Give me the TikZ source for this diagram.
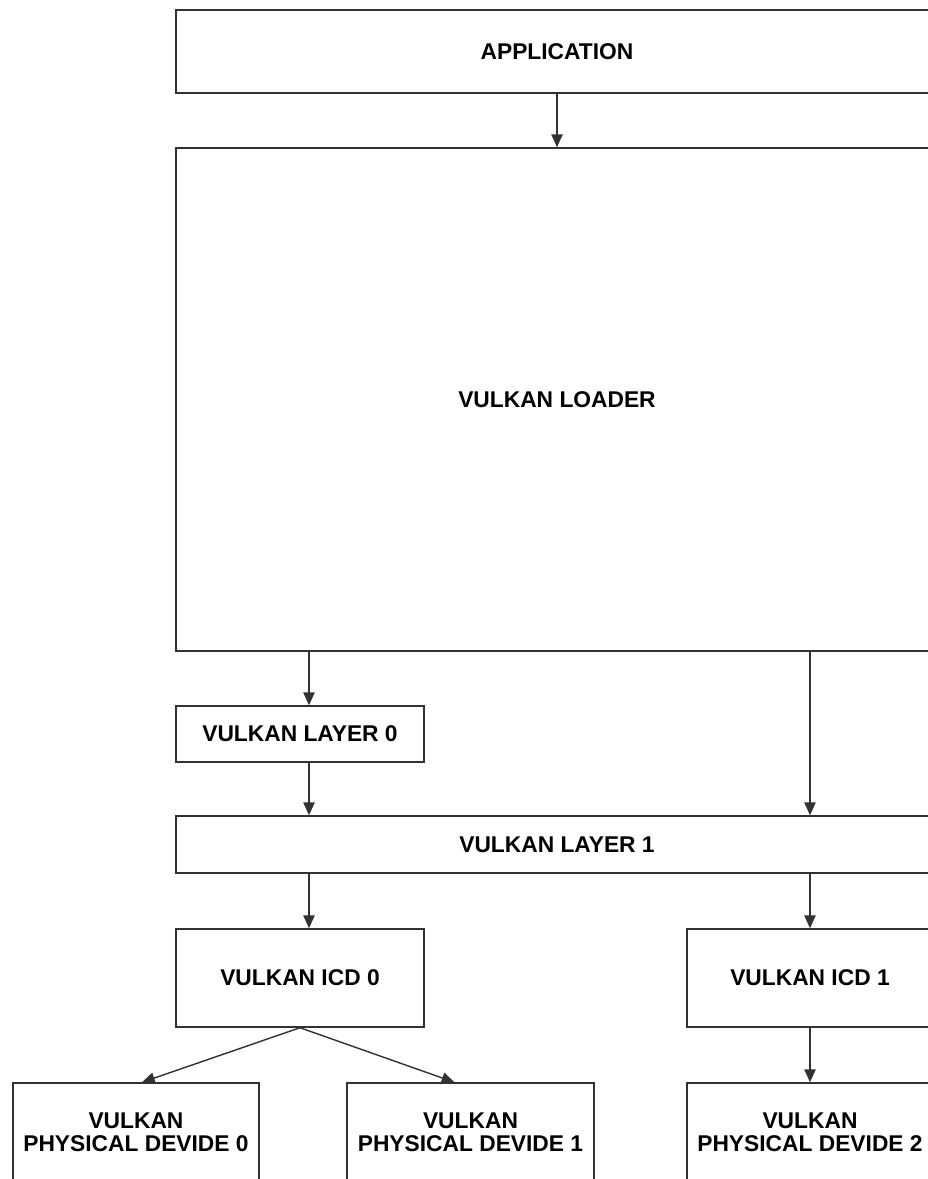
\documentclass[tikz,border=0pt]{standalone}
\usepackage{fontspec}
\setmainfont{Liberation Sans}
\usepackage{tikz}
\usetikzlibrary{arrows.meta, positioning, calc}
\definecolor{linegray}{RGB}{50,50,50}

\begin{document}
\begin{tikzpicture}[
  x=0.025cm, y=-0.025cm,
  box/.style={rectangle, draw=linegray, line width=1pt, fill=white,
              font=\fontsize{16.2}{16.5}\selectfont\bfseries, align=center,
              inner sep=0pt},
  arr/.style={-{Triangle[length=3.2mm, width=2.8mm]}, line width=1pt, draw=linegray, fill=linegray},
]
  \useasboundingbox (0,0) rectangle (928,1179);
  \fill[white] (0,0) rectangle (928,1179);
  \clip (0,0) rectangle (928,1179);

  \node[box, minimum width=19.05cm, minimum height=2.075cm]  (app)    at (557,51.5)  {APPLICATION};
  \node[box, minimum width=19.05cm, minimum height=12.575cm] (loader) at (557,399.5) {VULKAN LOADER};
  \node[box, minimum width=6.2cm,   minimum height=1.4cm]    (layer0) at (300,734)   {VULKAN LAYER 0};
  \node[box, minimum width=19.05cm, minimum height=1.425cm]  (layer1) at (557,844.5) {VULKAN LAYER 1};
  \node[box, minimum width=6.2cm,   minimum height=2.45cm]   (icd0)   at (300,978)   {VULKAN ICD 0};
  \node[box, minimum width=6.15cm,  minimum height=2.45cm]   (icd1)   at (810,978)   {VULKAN ICD 1};
  \node[box, minimum width=6.15cm,  minimum height=2.45cm]   (pd0)    at (136,1132)  {VULKAN\\PHYSICAL DEVIDE 0};
  \node[box, minimum width=6.175cm, minimum height=2.45cm]   (pd1)    at (470.5,1132){VULKAN\\PHYSICAL DEVIDE 1};
  \node[box, minimum width=6.15cm,  minimum height=2.45cm]   (pd2)    at (810,1132)  {VULKAN\\PHYSICAL DEVIDE 2};

  % arrow columns
  \coordinate (colA) at (309,0);
  \coordinate (colB) at (810,0);

  \draw[arr] (app.south) -- (loader.north);
  \draw[arr] (loader.south -| colA) -- (layer0.north -| colA);
  \draw[arr] (loader.south -| colB) -- (layer1.north -| colB);
  \draw[arr] (layer0.south -| colA) -- (layer1.north -| colA);
  \draw[arr] (layer1.south -| colA) -- (icd0.north -| colA);
  \draw[arr] (layer1.south -| colB) -- (icd1.north);
  \draw[arr] (icd0.south) -- ([xshift=0.15cm]pd0.north);
  \draw[arr] (icd0.south) -- ([xshift=-0.4cm]pd1.north);
  \draw[arr] (icd1.south) -- (pd2.north);
\end{tikzpicture}
\end{document}
